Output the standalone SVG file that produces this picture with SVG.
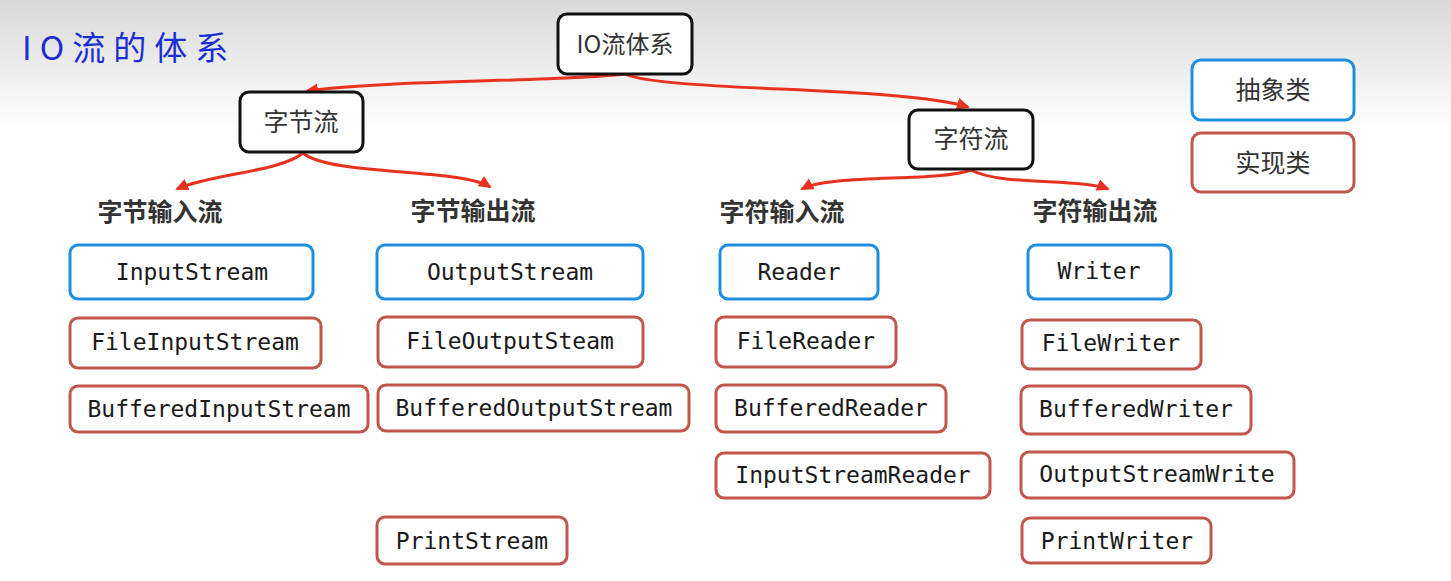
<svg xmlns="http://www.w3.org/2000/svg" width="1451" height="581" viewBox="0 0 1451 581">
<defs>
<linearGradient id="bg" x1="0" y1="0" x2="0" y2="1">
<stop offset="0" stop-color="#d9d9d9"/>
<stop offset="1" stop-color="#ffffff"/>
</linearGradient>
<marker id="ah" markerUnits="userSpaceOnUse" markerWidth="14" markerHeight="12" refX="11" refY="6" orient="auto">
<path d="M0,0 L13,6 L0,12 z" fill="#e8321e"/>
</marker>
<style>
.cat rect{fill:#fff;stroke:#111;stroke-width:3}
.abs rect{fill:#fff;stroke:#1e8fe0;stroke-width:3}
.imp rect{fill:#fff;stroke:#c0574a;stroke-width:3}
.cjk{font-family:"Noto Sans CJK SC","Noto Sans",sans-serif;font-size:24px;fill:#333;text-anchor:middle}
.hd{font-family:"Noto Sans CJK SC","Noto Sans",sans-serif;font-size:25px;font-weight:bold;fill:#333;text-anchor:middle}
.mono{font-family:"DejaVu Sans Mono","Liberation Mono",monospace;font-size:23px;fill:#1a1a1a;text-anchor:middle}
.conn path{fill:none;stroke:#e8321e;stroke-width:3;marker-end:url(#ah)}
</style>
</defs>
<rect x="0" y="0" width="1451" height="130" fill="url(#bg)"/>
<rect x="0" y="130" width="1451" height="451" fill="#fff"/>
<text x="22" y="60" font-family="Noto Sans CJK SC, sans-serif" font-size="33" letter-spacing="8" fill="#1a2fd6">IO流的体系</text>

<g id="conns" class="conn">
<path d="M625,74 C560,82 380,80 307,91"/>
<path d="M625,74 C665,92 900,86 968,107"/>
<path d="M303,153 C280,172 210,174 177,189"/>
<path d="M303,153 C330,176 460,168 490,187"/>
<path d="M971,170 C940,182 830,174 802,189"/>
<path d="M971,170 C1000,186 1080,178 1108,189"/>
</g>

<g id="io" class="cat"><rect x="558" y="14" width="134" height="60" rx="9"/><text class="cjk" x="625" y="53">IO流体系</text></g>
<g id="byte" class="cat"><rect x="240" y="92" width="123" height="60" rx="9"/><text class="cjk" x="301" y="131" style="font-size:25px">字节流</text></g>
<g id="char" class="cat"><rect x="909" y="110" width="124" height="59" rx="9"/><text class="cjk" x="971" y="148" style="font-size:25px">字符流</text></g>

<g id="legend-abs" class="abs"><rect x="1192" y="60" width="162" height="60" rx="9"/><text class="cjk" x="1273" y="99" style="font-size:25px">抽象类</text></g>
<g id="legend-imp" class="imp"><rect x="1192" y="133" width="162" height="59" rx="9"/><text class="cjk" x="1273" y="172" style="font-size:25px">实现类</text></g>

<g id="h1"><text class="hd" x="160" y="221">字节输入流</text></g>
<g id="h2"><text class="hd" x="473" y="220">字节输出流</text></g>
<g id="h3"><text class="hd" x="782" y="221">字符输入流</text></g>
<g id="h4"><text class="hd" x="1095" y="220">字符输出流</text></g>

<g id="inputstream" class="abs"><rect x="70" y="245" width="243" height="54" rx="8"/><text class="mono" x="192" y="280">InputStream</text></g>
<g id="outputstream" class="abs"><rect x="377" y="245" width="266" height="54" rx="8"/><text class="mono" x="510" y="280">OutputStream</text></g>
<g id="reader" class="abs"><rect x="720" y="245" width="158" height="54" rx="8"/><text class="mono" x="799" y="280">Reader</text></g>
<g id="writer" class="abs"><rect x="1028" y="245" width="143" height="54" rx="8"/><text class="mono" x="1099" y="279">Writer</text></g>

<g id="fileinputstream" class="imp"><rect x="70" y="318" width="251" height="50" rx="8"/><text class="mono" x="195" y="350">FileInputStream</text></g>
<g id="fileoutputsteam" class="imp"><rect x="378" y="317" width="265" height="50" rx="8"/><text class="mono" x="510" y="349">FileOutputSteam</text></g>
<g id="filereader" class="imp"><rect x="716" y="317" width="180" height="50" rx="8"/><text class="mono" x="806" y="349">FileReader</text></g>
<g id="filewriter" class="imp"><rect x="1022" y="320" width="179" height="49" rx="8"/><text class="mono" x="1111" y="351">FileWriter</text></g>

<g id="bufferedinputstream" class="imp"><rect x="70" y="386" width="298" height="46" rx="8"/><text class="mono" x="219" y="417">BufferedInputStream</text></g>
<g id="bufferedoutputstream" class="imp"><rect x="378" y="385" width="311" height="46" rx="8"/><text class="mono" x="534" y="416">BufferedOutputStream</text></g>
<g id="bufferedreader" class="imp"><rect x="716" y="385" width="230" height="47" rx="8"/><text class="mono" x="831" y="416">BufferedReader</text></g>
<g id="bufferedwriter" class="imp"><rect x="1021" y="386" width="230" height="48" rx="8"/><text class="mono" x="1136" y="417">BufferedWriter</text></g>

<g id="inputstreamreader" class="imp"><rect x="716" y="453" width="274" height="45" rx="8"/><text class="mono" x="853" y="483">InputStreamReader</text></g>
<g id="outputstreamwrite" class="imp"><rect x="1021" y="452" width="273" height="46" rx="8"/><text class="mono" x="1157" y="482">OutputStreamWrite</text></g>

<g id="printstream" class="imp"><rect x="377" y="517" width="190" height="47" rx="8"/><text class="mono" x="472" y="549">PrintStream</text></g>
<g id="printwriter" class="imp"><rect x="1022" y="518" width="189" height="45" rx="8"/><text class="mono" x="1117" y="549">PrintWriter</text></g>
</svg>
